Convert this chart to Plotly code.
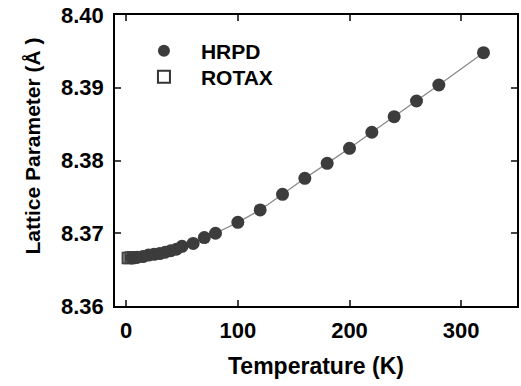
import plotly.graph_objects as go

# HRPD data (Temperature K, lattice parameter Å)
hrpd_T = [5, 10, 15, 20, 25, 30, 35, 40, 45, 50, 60, 70, 80, 100, 120, 140, 160, 180, 200, 220, 240, 260, 280, 320]
hrpd_a = [8.3666, 8.3667, 8.3668, 8.3670, 8.3671, 8.3672, 8.3674, 8.3676, 8.3678, 8.3682, 8.3686, 8.3694, 8.3700,
          8.3715, 8.3732, 8.37535, 8.37755, 8.37961, 8.38168, 8.38388, 8.38602, 8.38818, 8.39038, 8.39482]

# ROTAX data
rotax_T = [1.5, 3, 4.5, 6]
rotax_a = [8.3666, 8.3666, 8.36665, 8.3667]

x_ticks = [0, 100, 200, 300]
y_ticks = [8.36, 8.37, 8.38, 8.39, 8.40]
y_tick_labels = ["8.36", "8.37", "8.38", "8.39", "8.40"]

FONT = "Liberation Sans, Arial, sans-serif"

fig = go.Figure()

# fitted line (through HRPD data)
fig.add_trace(go.Scatter(
    x=hrpd_T, y=hrpd_a, mode="lines",
    line=dict(color="#8a8a8a", width=1.3),
    showlegend=False, hoverinfo="skip"))

fig.add_trace(go.Scatter(
    x=rotax_T, y=rotax_a, mode="markers", name="ROTAX",
    marker=dict(symbol="square-open", size=11, color="#444444", line=dict(width=1.5, color="#444444")),
    showlegend=False))

fig.add_trace(go.Scatter(
    x=hrpd_T, y=hrpd_a, mode="markers", name="HRPD", legend="legend",
    marker=dict(symbol="circle", size=13, color="#3c3c3c", line=dict(width=0))))

# legend-only entry
fig.add_trace(go.Scatter(
    x=[None], y=[None], mode="markers", name="ROTAX", legend="legend2",
    marker=dict(symbol="square", size=10, color="white", line=dict(width=1, color="#333333"))))

fig.add_annotation(
    text="Lattice Parameter (Å )", textangle=-90,
    xref="paper", yref="paper", x=-0.205, y=0.55,
    xanchor="center", yanchor="middle", showarrow=False,
    font=dict(size=21, weight="bold", family=FONT, color="black"))

leg_common = dict(xanchor="left", yanchor="top", itemwidth=64,
                  bgcolor="rgba(0,0,0,0)", font=dict(size=21, weight="bold", family=FONT),
                  itemsizing="constant")

fig.update_layout(
    width=521, height=386,
    margin=dict(l=115, r=2, t=15, b=80),
    paper_bgcolor="white", plot_bgcolor="white",
    font=dict(family=FONT, color="black"),
    legend=dict(x=0.0297, y=0.9467, **leg_common),
    legend2=dict(x=0.0297, y=0.857, **leg_common),
    xaxis=dict(range=[-10, 350], tickvals=x_ticks, ticks="inside", ticklen=6, tickwidth=1.5,
               showline=True, linecolor="black", linewidth=1.5, mirror="allticks",
               showgrid=False, zeroline=False, ticklabelstandoff=4,
               tickfont=dict(size=22, weight="bold", family=FONT),
               title=dict(text="Temperature (K)", font=dict(size=23, weight="bold", family=FONT), standoff=16)),
    yaxis=dict(range=[8.36, 8.40], tickvals=y_ticks, ticktext=y_tick_labels, ticks="inside", ticklen=6, tickwidth=1.5,
               showline=True, linecolor="black", linewidth=1.5, mirror="allticks",
               showgrid=False, zeroline=False, ticklabelstandoff=5,
               tickfont=dict(size=22, weight="bold", family=FONT)),
)

fig.write_html("out.html", config={"displayModeBar": False},
               post_script="document.body.style.margin='0';document.body.style.overflow='hidden';")
